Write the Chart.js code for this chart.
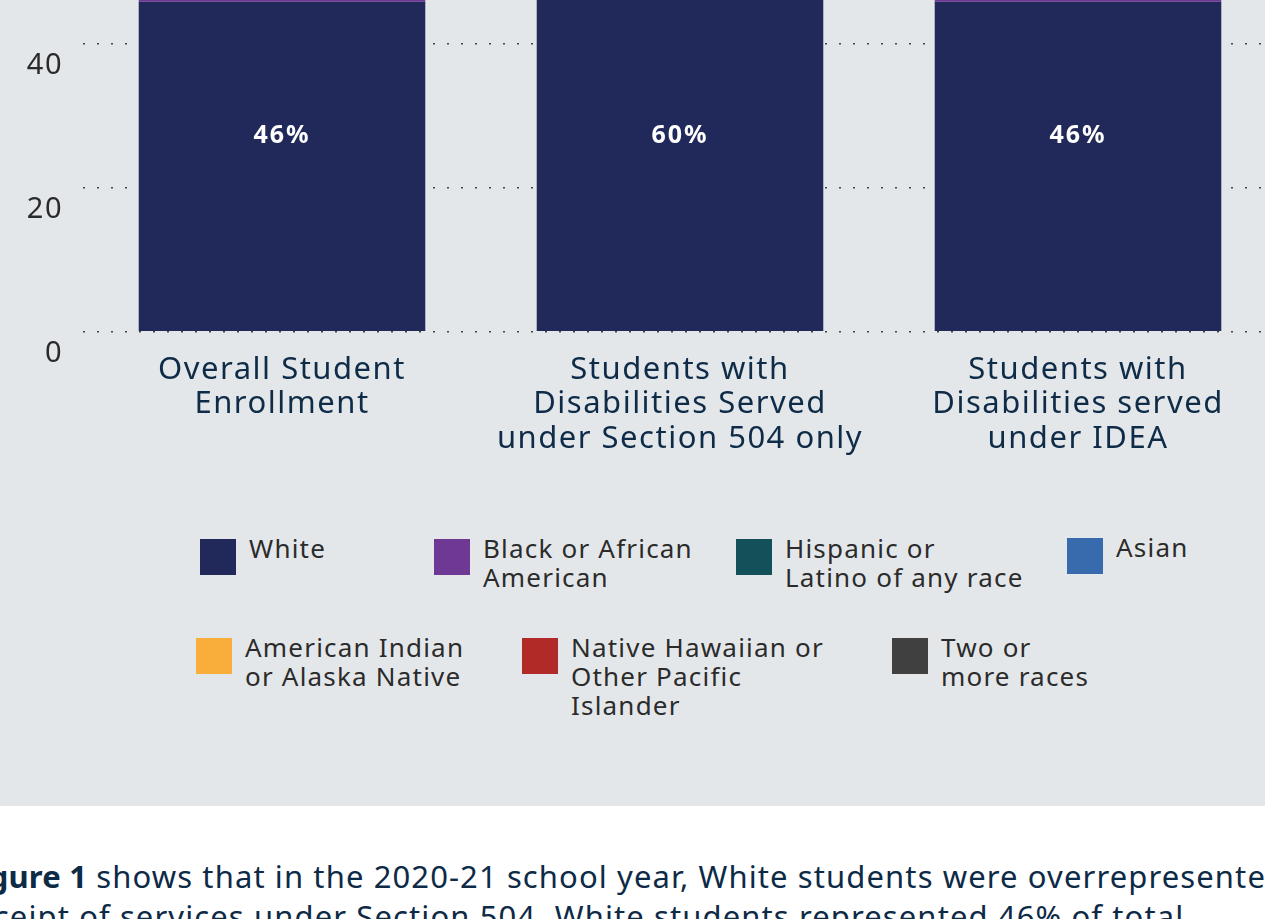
<!DOCTYPE html>
<html>
<head>
<meta charset="utf-8">
<script src="https://cdn.jsdelivr.net/npm/chart.js@4"></script>
<style>
  html, body { margin: 0; padding: 0; width: 1265px; height: 919px; overflow: hidden; background: #fff; font-family: "Noto Sans", sans-serif; }
  #panel { position: absolute; left: 0; top: 0; width: 1265px; height: 806px; background: #e4e7ea; overflow: hidden; }
  #chartBox { position: absolute; left: 0; top: -426px; width: 1290px; height: 903px; }
  .leg { position: absolute; display: flex; align-items: flex-start; }
  .leg .sw { width: 36px; height: 36px; flex: none; }
  .leg .tx { margin-left: 13px; margin-top: -5px; font-size: 26px; letter-spacing: 1.2px; line-height: 29px; color: #2b2b2b; }
  #para { position: absolute; left: -38px; top: 856px; width: 1500px; font-size: 31px; letter-spacing: 1.1px; line-height: 40px; color: #0d2a47; white-space: nowrap; }
  #para b { letter-spacing: 0.2px; }
</style>
</head>
<body>
<div id="panel">
  <div id="chartBox"><canvas id="chart"></canvas></div>
  <div id="legend"></div>
</div>
<div id="para"><b>Figure 1</b> shows that in the 2020-21 school year, White students were overrepresented in<br>receipt of services under Section 504. White students represented 46% of total</div>
<script>
const categories = [
    ['Overall Student', 'Enrollment'],
    ['Students with', 'Disabilities Served', 'under Section 504 only'],
    ['Students with', 'Disabilities served', 'under IDEA']
];

const seriesNames = ['White', 'Black or African American', 'Hispanic or Latino of any race', 'Asian',
    'American Indian or Alaska Native', 'Native Hawaiian or Other Pacific Islander', 'Two or more races'];
const legendLines = [
    ['White'], ['Black or African', 'American'], ['Hispanic or', 'Latino of any race'], ['Asian'],
    ['American Indian', 'or Alaska Native'], ['Native Hawaiian or', 'Other Pacific', 'Islander'], ['Two or', 'more races']
];
const seriesColors = ['#20295a', '#6f3895', '#13515a', '#376bae', '#f9ae3b', '#b02a27', '#404040'];

// percent of each group (only the White bars are visible in the picture)
const white    = [45.8, 60.2, 45.8];
const black    = [15.1, 12.0, 17.5];
const hispanic = [28.0, 18.6, 27.6];
const asian    = [5.4, 3.2, 2.6];
const aian     = [1.0, 1.0, 1.4];
const nhpi     = [0.4, 0.2, 0.4];
const twoMore  = [4.3, 4.8, 4.7];

const whiteLabels = ['46%', '60%', '46%'];
const labelLevel = 27.2;   // value on the y axis where the % labels sit

const yTicks = [0, 20, 40, 60, 80, 100];

const allSeries = [white, black, hispanic, asian, aian, nhpi, twoMore];

// Gotham-like width: widen the canvas text a little
const spacing = {
    id: 'spacing',
    beforeUpdate(chart) { chart.ctx.letterSpacing = '1.5px'; },
    beforeDraw(chart) { chart.ctx.letterSpacing = '1.5px'; }
};

const pctLabels = {
    id: 'pctLabels',
    afterDatasetsDraw(chart) {
        const ctx = chart.ctx;
        const meta = chart.getDatasetMeta(0);
        const y = chart.scales.y.getPixelForValue(labelLevel);
        ctx.save();
        ctx.fillStyle = '#ffffff';
        ctx.font = 'bold 25px "Noto Sans"';
        ctx.letterSpacing = '2px';
        ctx.textAlign = 'center';
        ctx.textBaseline = 'middle';
        meta.data.forEach((bar, i) => {
            ctx.fillText(whiteLabels[i], bar.x, y);
        });
        ctx.restore();
    }
};

new Chart(document.getElementById('chart'), {
    type: 'bar',
    data: {
        labels: categories,
        datasets: allSeries.map((vals, i) => ({
            label: seriesNames[i],
            data: vals,
            backgroundColor: seriesColors[i],
            borderWidth: 0,
            barPercentage: 0.72,
            categoryPercentage: 1
        }))
    },
    options: {
        responsive: true,
        maintainAspectRatio: false,
        animation: false,
        layout: { padding: { top: 11, right: 13, left: 0, bottom: 0 } },
        plugins: {
            legend: { display: false },
            tooltip: { enabled: false }
        },
        scales: {
            x: {
                stacked: true,
                grid: { display: false, drawTicks: false },
                border: { display: false },
                ticks: {
                    color: '#0e2b47',
                    font: { family: 'Noto Sans', size: 31, lineHeight: 1.11 },
                    padding: 21,
                    maxRotation: 0,
                    autoSkip: false
                }
            },
            y: {
                stacked: true,
                min: 0,
                max: 100,
                afterFit: s => { s.width = 83; },
                afterBuildTicks: s => { s.ticks = yTicks.map(v => ({ value: v })); },
                grid: {
                    color: '#444',
                    lineWidth: 1.5,
                    drawTicks: false
                },
                border: { display: false, dash: [2, 12] },
                ticks: {
                    color: '#2a2a2a',
                    font: { family: 'Noto Sans', size: 29 },
                    padding: 20,
                    labelOffset: 22
                }
            }
        }
    },
    plugins: [spacing, pctLabels]
});

// HTML legend
const legendPos = [[200, 539], [434, 539], [736, 539], [1067, 538], [196, 638], [522, 638], [892, 638]];
const legend = document.getElementById('legend');
seriesNames.forEach((name, i) => {
    const item = document.createElement('div');
    item.className = 'leg';
    item.style.left = legendPos[i][0] + 'px';
    item.style.top = legendPos[i][1] + 'px';
    item.innerHTML = '<div class="sw" style="background:' + seriesColors[i] + '"></div><div class="tx">' + legendLines[i].join('<br>') + '</div>';
    legend.appendChild(item);
});
</script>
</body>
</html>
